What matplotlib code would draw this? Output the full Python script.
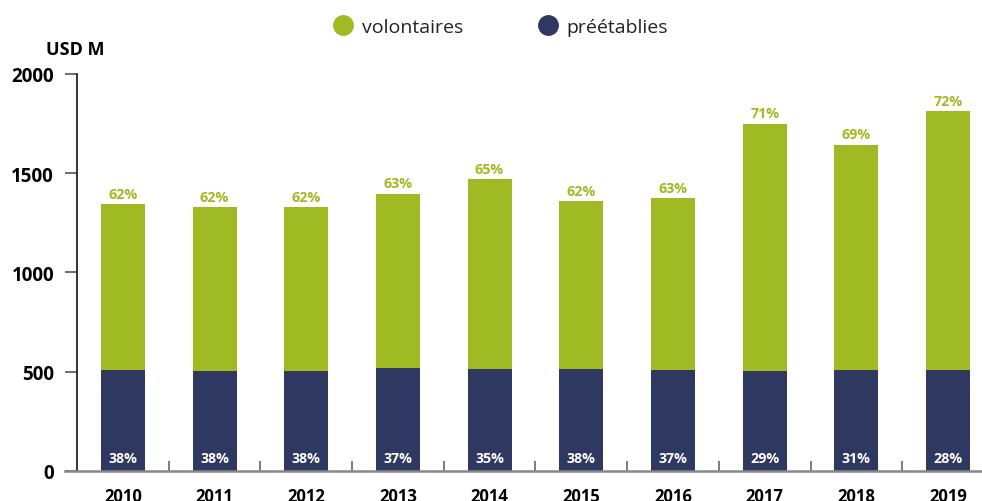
import matplotlib
matplotlib.use("Agg")
import matplotlib.pyplot as plt
from matplotlib.lines import Line2D

plt.rcParams["font.family"] = ["Open Sans", "DejaVu Sans"]

years = ["2010", "2011", "2012", "2013", "2014", "2015", "2016", "2017", "2018", "2019"]
preetablies = [509, 502, 502, 516, 513, 513, 507, 504, 507, 507]
totals = [1344, 1329, 1329, 1395, 1470, 1359, 1374, 1749, 1642, 1813]
volontaires = [t - p for t, p in zip(totals, preetablies)]
pct_vol = ["62%", "62%", "62%", "63%", "65%", "62%", "63%", "71%", "69%", "72%"]
pct_pre = ["38%", "38%", "38%", "37%", "35%", "38%", "37%", "29%", "31%", "28%"]

GREEN = "#9fba22"
NAVY = "#2f3860"
W, H = 982, 502

fig = plt.figure(figsize=(W / 100, H / 100), dpi=100)
ax = fig.add_axes([77 / W, (H - 471.7) / H, 1 - 77 / W, (471.7 - 75) / H])

x = list(range(len(years)))
bw = 0.48
ax.bar(x, preetablies, width=bw, color=NAVY, zorder=2)
ax.bar(x, volontaires, width=bw, bottom=preetablies, color=GREEN, zorder=2)

for i in x:
    ax.text(i, totals[i] + 18, pct_vol[i], ha="center", va="bottom",
            color=GREEN, fontsize=10.3, fontweight="bold")
    ax.text(i, 63, pct_pre[i], ha="center", va="center",
            color="white", fontsize=10.3, fontweight="bold")

ax.set_xlim(-0.5, 9.37)
ax.set_ylim(0, 2000)
ax.set_yticks([0, 500, 1000, 1500, 2000])
ax.set_xticks(x)
ax.set_xticklabels(years)
ax.set_xticks([i + 0.5 for i in x[:-1]], minor=True)

for lab in ax.get_xticklabels() + ax.get_yticklabels():
    lab.set_fontweight("bold")
ax.tick_params(axis="x", which="major", length=0, labelsize=12, pad=12)
ax.tick_params(axis="x", which="minor", length=7, direction="in", color="#666666", width=1.2)
ax.tick_params(axis="y", length=8.5, width=1.2, color="#555555", labelsize=13.5, pad=8)

for s in ["top", "right", "bottom"]:
    ax.spines[s].set_visible(False)
ax.spines["left"].set_color("#111111")
ax.spines["left"].set_linewidth(1.2)
# baseline extends left of the y axis, like the tick marks
ax.plot([-12 / 905, 1.0], [0, 0], transform=ax.transAxes, color="#888888",
        lw=1.8, clip_on=False, zorder=3)

fig.text(46 / W, 1 - 50 / H, "USD M", fontsize=13, fontweight="bold", va="center", ha="left")

handles = [
    Line2D([], [], ls="none", marker="o", markersize=14, color=GREEN),
    Line2D([], [], ls="none", marker="o", markersize=14, color=NAVY),
]
fig.legend(handles, ["volontaires", "préétablies"], loc="center", ncol=2,
           bbox_to_anchor=(501 / W, 1 - 28 / H), frameon=False, fontsize=14,
           handlelength=0.9, handletextpad=0.5, columnspacing=3.9,
           labelcolor="#222222")

fig.savefig("out.png", dpi=100)
